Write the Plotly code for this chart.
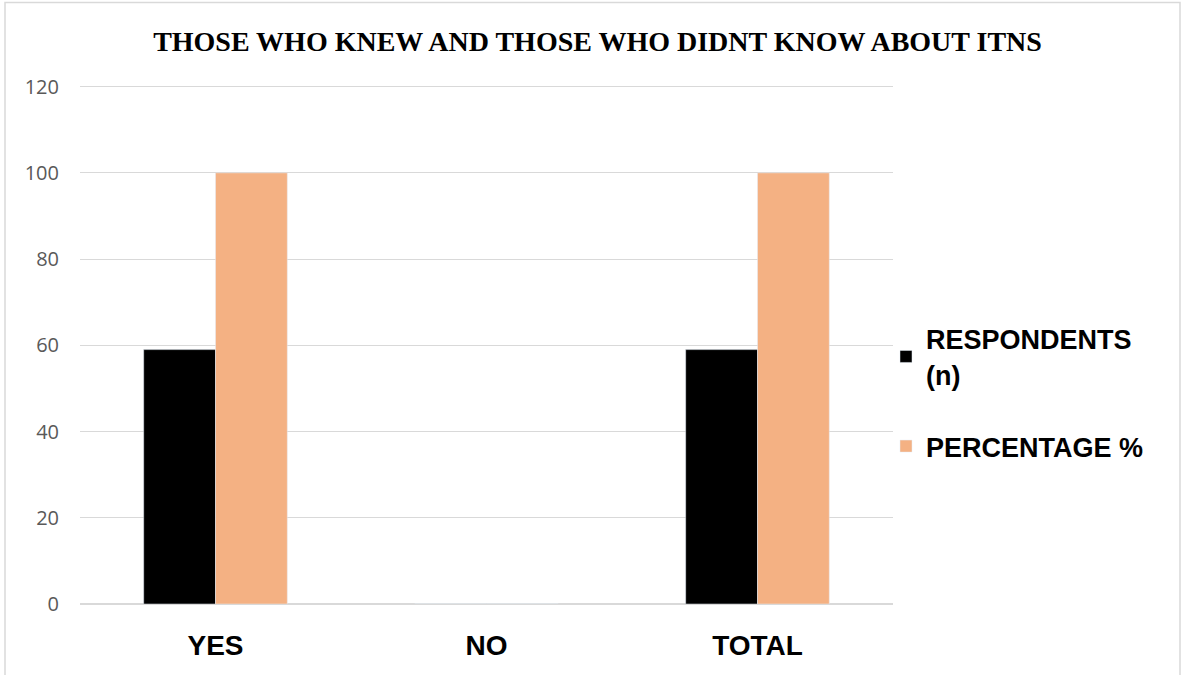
import plotly.graph_objects as go

categories = ["YES", "NO", "TOTAL"]
respondents = [59, 0, 59]
percentage = [100, 0, 100]
y_ticks = [0, 20, 40, 60, 80, 100, 120]

W, H = 1184, 675
ML, MR, MT, MB = 80, 291, 78.4, 71
pw, ph = W - ML - MR, H - MT - MB

fig = go.Figure()
fig.add_trace(go.Bar(x=categories, y=respondents, name="RESPONDENTS<br>(n)",
                     marker_color="#000000", legendgroup="a"))
fig.add_trace(go.Bar(x=categories, y=percentage, name="PERCENTAGE %",
                     marker_color="#F4B183", legendgroup="b"))

def px_x(x):
    return (x - ML) / pw

def px_y(y):
    return (H - MB - y) / ph

fig.add_shape(type="rect", xref="paper", yref="paper",
              x0=px_x(5), x1=px_x(1180), y0=px_y(3), y1=px_y(700),
              line=dict(color="#d9d9d9", width=1.5), fillcolor="rgba(0,0,0,0)", layer="below")

fig.update_layout(
    width=W, height=H,
    margin=dict(l=ML, r=MR, t=MT, b=MB),
    paper_bgcolor="white", plot_bgcolor="white",
    barmode="group", bargap=0.47, bargroupgap=0,
    title=dict(text="THOSE WHO KNEW AND THOSE WHO DIDNT KNOW ABOUT ITNS",
               x=(150 + 1045) / 2 / W, xanchor="center", y=1 - 41 / H, yanchor="middle",
               font=dict(family="Liberation Serif", size=28, color="#000000", weight="bold")),
    showlegend=True,
    legend=dict(x=px_x(886), xanchor="left", y=px_y(393), yanchor="middle",
                traceorder="grouped", tracegroupgap=34,
                font=dict(family="Liberation Sans", size=27, color="#000000", weight=900),
                itemwidth=30, bgcolor="rgba(0,0,0,0)"),
    xaxis=dict(tickfont=dict(family="Liberation Sans", size=28, color="#000000", weight=900),
               ticklabelstandoff=22, showline=False, showgrid=False, ticks=""),
    yaxis=dict(range=[0, 122], tickvals=y_ticks, showgrid=True, gridcolor="#d9d9d9",
               gridwidth=1, zeroline=True, zerolinecolor="#d9d9d9", zerolinewidth=1.5,
               tickfont=dict(family="Open Sans", size=20, color="#595959"),
               ticklabelstandoff=20, ticks=""),
)

fig.write_html("out.html")
